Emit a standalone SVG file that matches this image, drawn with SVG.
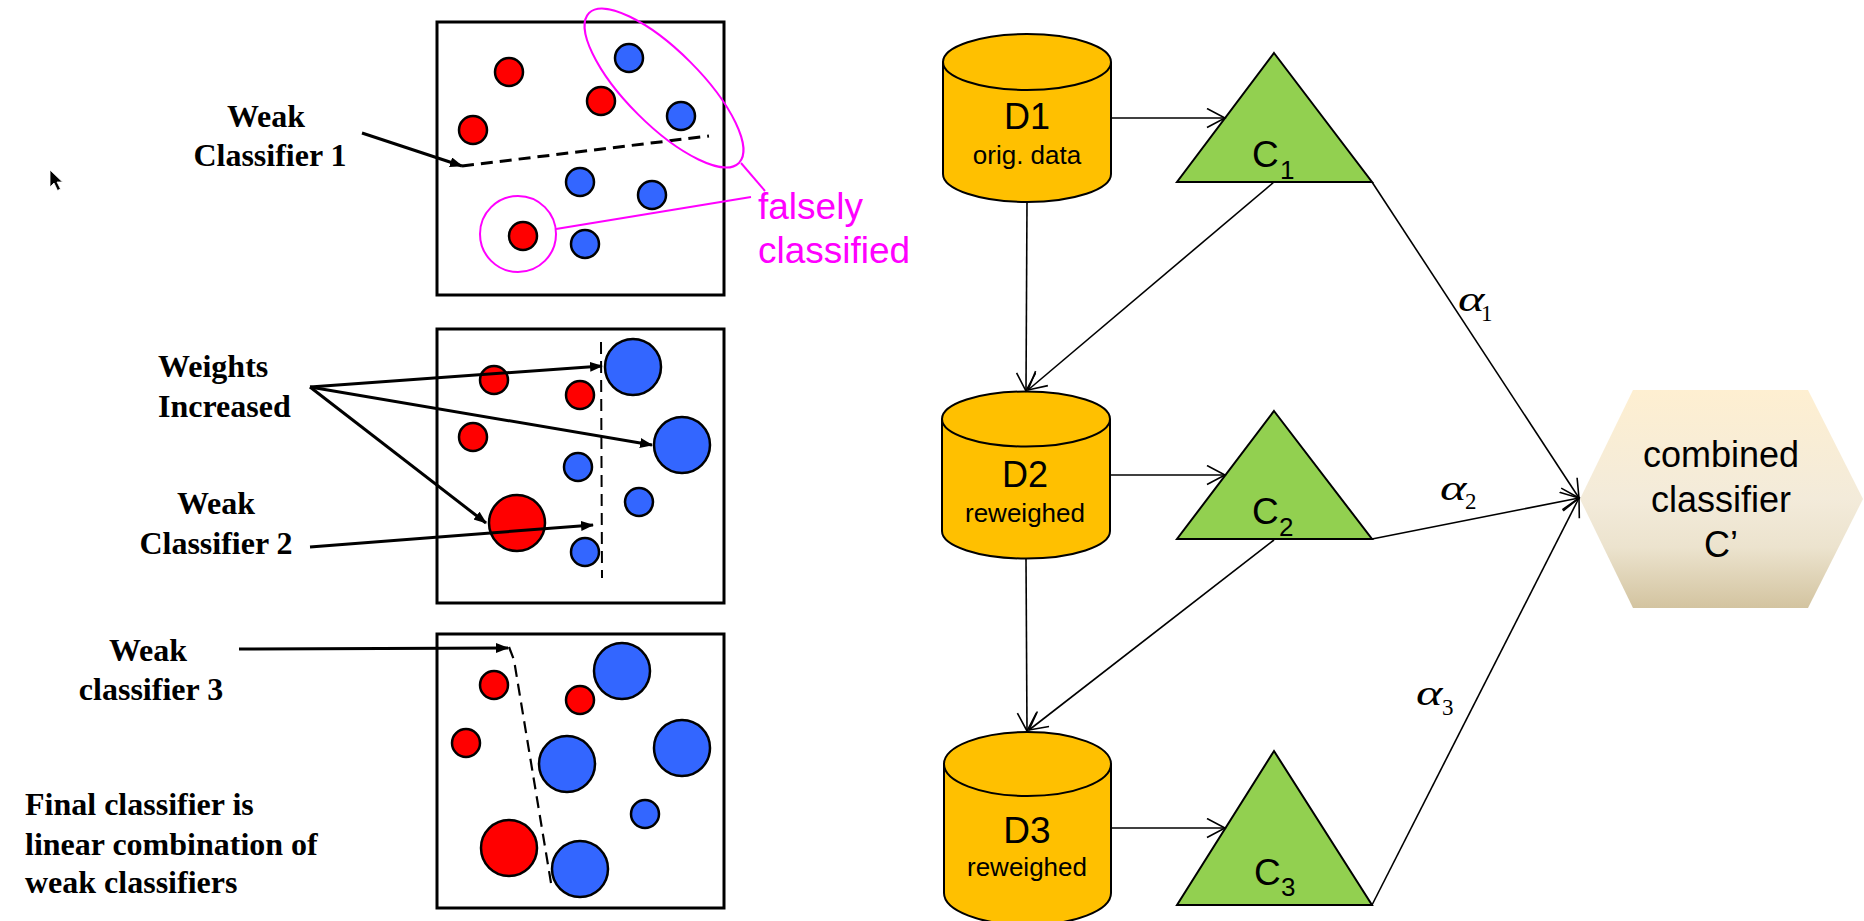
<svg xmlns="http://www.w3.org/2000/svg" width="1864" height="921" viewBox="0 0 1864 921">
  <defs>
    <style>
      .bold { font-family: "Liberation Serif", "Times New Roman", serif; font-weight: bold; font-size: 32px; fill: #000; }
      .sans { font-family: "Liberation Sans", Arial, sans-serif; fill: #000; }
      .greek { font-family: "Liberation Serif", "Times New Roman", serif; font-style: italic; font-size: 36px; fill: #000; }
      .sub { font-family: "Liberation Serif", "Times New Roman", serif; font-size: 23px; fill: #000; }
      .pink { font-family: "Liberation Sans", Arial, sans-serif; font-size: 37px; fill: #FF00FF; }
      .frame { fill: #fff; stroke: #000; stroke-width: 3; }
      .red { fill: #FF0000; stroke: #000; stroke-width: 2.5; }
      .blue { fill: #3366FF; stroke: #000; stroke-width: 2.5; }
      .mark { fill: none; stroke: #FF00FF; stroke-width: 2; }
      .split { fill: none; stroke: #000; stroke-dasharray: 12 7; }
      .thick { fill: none; stroke: #000; stroke-width: 3; marker-end: url(#solid); }
      .thin { fill: none; stroke: #000; stroke-width: 1.6; marker-end: url(#open); }
      .can { fill: #FFC000; stroke: #000; stroke-width: 2; }
      .tri { fill: #92D050; stroke: #000; stroke-width: 2; stroke-linejoin: miter; }
    </style>
    <marker id="solid" markerUnits="userSpaceOnUse" markerWidth="14" markerHeight="12" refX="12" refY="5" orient="auto">
      <path d="M0,0 L13,5 L0,10 Z" fill="#000"/>
    </marker>
    <marker id="open" markerUnits="userSpaceOnUse" markerWidth="22" markerHeight="22" refX="19" refY="10" orient="auto">
      <path d="M1,0.5 L19,10 L1,19.5" fill="none" stroke="#000" stroke-width="1.6"/>
    </marker>
    <linearGradient id="hexFill" x1="0" y1="0" x2="0" y2="1">
      <stop offset="0" stop-color="#FEEFD1"/>
      <stop offset="0.5" stop-color="#F3EBDA"/>
      <stop offset="0.72" stop-color="#ECE3CE"/>
      <stop offset="1" stop-color="#D3C4A0"/>
    </linearGradient>
  </defs>

  <rect width="1864" height="921" fill="#fff"/>

  <!-- mouse pointer -->
  <g id="pointer">
    <path d="M50,170 L50,187 L54,183 L57.5,190.5 L60.5,189 L57,182 L62.5,182 Z" fill="#000" stroke="#fff" stroke-width="0.8"/>
  </g>

  <!-- sample panel 1 -->
  <g id="panel1">
    <rect class="frame" x="437" y="22" width="287" height="273"/>
    <circle class="red" cx="509" cy="72" r="14"/>
    <circle class="blue" cx="629" cy="58" r="14"/>
    <circle class="red" cx="601" cy="101" r="14"/>
    <circle class="blue" cx="681" cy="116" r="14"/>
    <circle class="red" cx="473" cy="130" r="14"/>
    <circle class="blue" cx="580" cy="182" r="14"/>
    <circle class="blue" cx="652" cy="195" r="14"/>
    <circle class="red" cx="523" cy="236" r="14"/>
    <circle class="blue" cx="585" cy="244" r="14"/>
    <line class="split" x1="462" y1="166" x2="709" y2="136" stroke-width="3"/>
  </g>

  <!-- sample panel 2 -->
  <g id="panel2">
    <rect class="frame" x="437" y="329" width="287" height="274"/>
    <circle class="red" cx="494" cy="380" r="14"/>
    <circle class="red" cx="580" cy="395" r="14"/>
    <circle class="blue" cx="633" cy="367" r="28"/>
    <circle class="red" cx="473" cy="437" r="14"/>
    <circle class="blue" cx="682" cy="445" r="28"/>
    <circle class="blue" cx="578" cy="467" r="14"/>
    <circle class="blue" cx="639" cy="502" r="14"/>
    <circle class="red" cx="517" cy="523" r="28"/>
    <circle class="blue" cx="585" cy="552" r="14"/>
    <line class="split" x1="601" y1="342" x2="602" y2="578" stroke-width="2" stroke-dasharray="11 6"/>
  </g>

  <!-- sample panel 3 -->
  <g id="panel3">
    <rect class="frame" x="437" y="634" width="287" height="274"/>
    <circle class="red" cx="494" cy="685" r="14"/>
    <circle class="red" cx="580" cy="700" r="14"/>
    <circle class="blue" cx="622" cy="671" r="28"/>
    <circle class="red" cx="466" cy="743" r="14"/>
    <circle class="blue" cx="682" cy="748" r="28"/>
    <circle class="blue" cx="567" cy="764" r="28"/>
    <circle class="blue" cx="645" cy="814" r="14"/>
    <circle class="red" cx="509" cy="848" r="28"/>
    <circle class="blue" cx="580" cy="869" r="28"/>
    <polyline class="split" points="509,647 514,660 552,889" stroke-width="2.2" stroke-dasharray="12 6"/>
  </g>

  <!-- misclassified highlight -->
  <g id="misclassified">
    <ellipse class="mark" cx="664" cy="88" rx="106" ry="37" transform="rotate(45 664 88)"/>
    <circle class="mark" cx="518" cy="234" r="38"/>
    <line class="mark" x1="741" y1="163" x2="765" y2="191"/>
    <line class="mark" x1="556" y1="229" x2="751" y2="197"/>
    <text class="pink" x="758" y="219">falsely</text>
    <text class="pink" x="758" y="263">classified</text>
  </g>

  <!-- left captions -->
  <g id="label-weak1">
    <text class="bold" x="266" y="127" text-anchor="middle">Weak</text>
    <text class="bold" x="270" y="166" text-anchor="middle">Classifier 1</text>
  </g>
  <g id="label-weights">
    <text class="bold" x="158" y="377">Weights</text>
    <text class="bold" x="158" y="417">Increased</text>
  </g>
  <g id="label-weak2">
    <text class="bold" x="216" y="514" text-anchor="middle">Weak</text>
    <text class="bold" x="216" y="554" text-anchor="middle">Classifier 2</text>
  </g>
  <g id="label-weak3">
    <text class="bold" x="148" y="661" text-anchor="middle">Weak</text>
    <text class="bold" x="151" y="700" text-anchor="middle">classifier 3</text>
  </g>
  <g id="label-final">
    <text class="bold" x="25" y="815">Final classifier is</text>
    <text class="bold" x="25" y="855">linear combination of</text>
    <text class="bold" x="25" y="893">weak classifiers</text>
  </g>

  <!-- data sets -->
  <g id="D1">
    <path class="can" d="M943,62 L943,174 A84,28 0 0 0 1111,174 L1111,62 A84,28 0 0 0 943,62 Z"/>
    <path d="M943,62 A84,28 0 0 0 1111,62" fill="none" stroke="#000" stroke-width="2"/>
    <text class="sans" x="1027" y="129" font-size="36" text-anchor="middle">D1</text>
    <text class="sans" x="1027" y="164" font-size="26" text-anchor="middle">orig. data</text>
  </g>
  <g id="D2">
    <path class="can" d="M942,419 L942,531 A84,27.5 0 0 0 1110,531 L1110,419 A84,27.5 0 0 0 942,419 Z"/>
    <path d="M942,419 A84,27.5 0 0 0 1110,419" fill="none" stroke="#000" stroke-width="2"/>
    <text class="sans" x="1025" y="487" font-size="36" text-anchor="middle">D2</text>
    <text class="sans" x="1025" y="522" font-size="26" text-anchor="middle">reweighed</text>
  </g>
  <g id="D3">
    <path class="can" d="M944,764 L944,893 A83.5,32 0 0 0 1111,893 L1111,764 A83.5,32 0 0 0 944,764 Z"/>
    <path d="M944,764 A83.5,32 0 0 0 1111,764" fill="none" stroke="#000" stroke-width="2"/>
    <text class="sans" x="1027" y="843" font-size="37" text-anchor="middle">D3</text>
    <text class="sans" x="1027" y="876" font-size="26" text-anchor="middle">reweighed</text>
  </g>

  <!-- weak classifiers -->
  <g id="C1">
    <polygon class="tri" points="1274,53 1372,182 1177,182"/>
    <text class="sans" x="1252" y="167" font-size="37">C</text>
    <text class="sans" x="1280" y="179" font-size="26">1</text>
  </g>
  <g id="C2">
    <polygon class="tri" points="1274,411 1372,539 1177,539"/>
    <text class="sans" x="1252" y="524" font-size="37">C</text>
    <text class="sans" x="1279" y="536" font-size="26">2</text>
  </g>
  <g id="C3">
    <polygon class="tri" points="1274,751 1372,905 1177,905"/>
    <text class="sans" x="1254" y="885" font-size="37">C</text>
    <text class="sans" x="1281" y="896" font-size="26">3</text>
  </g>

  <!-- combined classifier -->
  <g id="combined">
    <polygon points="1633,390 1808,390 1863,499 1808,608 1633,608 1580,499" fill="url(#hexFill)"/>
    <text class="sans" x="1721" y="467" font-size="36" text-anchor="middle">combined</text>
    <text class="sans" x="1721" y="512" font-size="36" text-anchor="middle">classifier</text>
    <text class="sans" x="1721" y="557" font-size="36" text-anchor="middle">C’</text>
  </g>

  <!-- weights on the final edges (alpha glyph widened) -->
  <g id="weights">
    <text class="greek" transform="translate(1458,311) scale(1.4,1)">α</text>
    <text class="sub" x="1481" y="321">1</text>
    <text class="greek" transform="translate(1440,500) scale(1.4,1)">α</text>
    <text class="sub" x="1465" y="509">2</text>
    <text class="greek" transform="translate(1416,705) scale(1.4,1)">α</text>
    <text class="sub" x="1442" y="715">3</text>
  </g>

  <!-- connectors -->
  <g id="connectors">
    <line class="thick" x1="362" y1="133" x2="462" y2="166"/>
    <line class="thick" x1="310" y1="387" x2="602" y2="366"/>
    <line class="thick" x1="310" y1="387" x2="652" y2="445"/>
    <line class="thick" x1="310" y1="387" x2="486" y2="523" stroke-width="2.2"/>
    <line class="thick" x1="310" y1="547" x2="593" y2="525"/>
    <line class="thick" x1="239" y1="649" x2="508" y2="648"/>

    <line class="thin" x1="1111" y1="118" x2="1225" y2="118"/>
    <line class="thin" x1="1110" y1="475" x2="1225" y2="475"/>
    <line class="thin" x1="1111" y1="828" x2="1225" y2="828"/>
    <line class="thin" x1="1027" y1="202" x2="1026" y2="391"/>
    <line class="thin" x1="1274" y1="182" x2="1028" y2="390"/>
    <line class="thin" x1="1026" y1="558" x2="1027" y2="731"/>
    <line class="thin" x1="1274" y1="540" x2="1029" y2="730"/>
    <line class="thin" x1="1372" y1="182" x2="1579" y2="498"/>
    <line class="thin" x1="1372" y1="539" x2="1579" y2="498"/>
    <line class="thin" x1="1372" y1="905" x2="1579" y2="498"/>
  </g>
</svg>
